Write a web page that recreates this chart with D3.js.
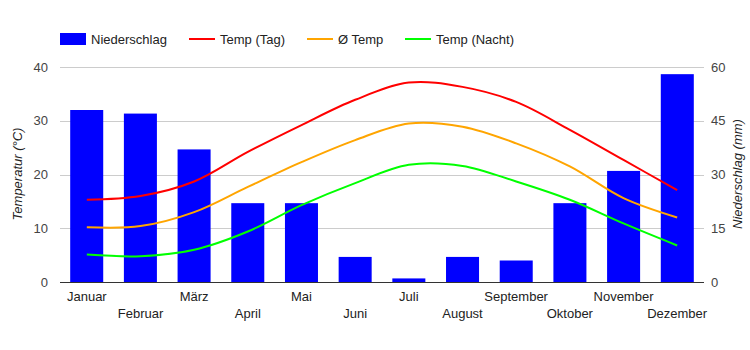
<!DOCTYPE html>
<html>
<head>
<meta charset="utf-8">
<script src="https://cdn.jsdelivr.net/npm/d3@7"></script>
<style>
	body { margin: 0; background: #fff; }
	text { font-family: Arial, "Liberation Sans", sans-serif; }
</style>
</head>
<body>
<div id="chart"></div>
<script>
var months = ['Januar', 'Februar', 'März', 'April', 'Mai', 'Juni', 'Juli', 'August', 'September', 'Oktober', 'November', 'Dezember'];
var niederschlag = [48, 47, 37, 22, 22, 7, 1, 7, 6, 22, 31, 58];
var tempTag = [15.3, 16.0, 18.7, 24.2, 29.2, 33.9, 37.1, 36.3, 33.5, 28.3, 22.7, 17.1];
var tempMittel = [10.2, 10.4, 13.0, 17.7, 22.3, 26.4, 29.5, 28.9, 25.8, 21.5, 15.6, 12.0];
var tempNacht = [5.1, 4.8, 6.0, 9.4, 14.3, 18.4, 21.8, 21.6, 18.7, 15.3, 10.9, 6.8];
var tempTicks = [0, 10, 20, 30, 40];
var rainTicks = [0, 15, 30, 45, 60];

var chart_width = 750;
var chart_height = 350;
var plot_left = 60, plot_right = 704, plot_top = 67, plot_bottom = 282;

function drawChart() {
	var svg = d3.select('#chart')
				.append('svg')
				.attr('width', chart_width)
				.attr('height', chart_height);

	var x_scale = d3.scaleBand()
					.domain(months)
					.range([plot_left, plot_right])
					.paddingInner(0.385)
					.paddingOuter(0.19);

	var x_center = d3.scalePoint()
					.domain(months)
					.range([plot_left, plot_right])
					.padding(0.5);

	var y_temp = d3.scaleLinear().domain([0, 40]).range([plot_bottom, plot_top]);
	var y_rain = d3.scaleLinear().domain([0, 60]).range([plot_bottom, plot_top]);

	//gridlines
	svg.append('g')
		.selectAll('line')
		.data(tempTicks.slice(1))
		.enter()
		.append('line')
		.attr('x1', plot_left)
		.attr('x2', plot_right)
		.attr('y1', function(d){ return Math.round(y_temp(d)) + 0.5; })
		.attr('y2', function(d){ return Math.round(y_temp(d)) + 0.5; })
		.attr('stroke', '#cccccc')
		.attr('stroke-width', 1);

	//bars
	svg.append('g')
		.selectAll('rect')
		.data(niederschlag)
		.enter()
		.append('rect')
		.attr('x', function(d, i){ return x_scale(months[i]); })
		.attr('width', x_scale.bandwidth())
		.attr('y', function(d){ return y_rain(d); })
		.attr('height', function(d){ return plot_bottom - y_rain(d); })
		.attr('fill', '#0000ff');

	//baseline
	svg.append('line')
		.attr('x1', plot_left).attr('x2', plot_right)
		.attr('y1', plot_bottom + 0.5).attr('y2', plot_bottom + 0.5)
		.attr('stroke', '#333333')
		.attr('stroke-width', 1);

	//lines
	var line = function(scale){
		return d3.line()
				.x(function(d, i){ return x_center(months[i]); })
				.y(function(d){ return scale(d); })
				.curve(d3.curveCatmullRom.alpha(0.5));
	};
	var series = [[tempTag, '#ff0000'], [tempMittel, '#ffa500'], [tempNacht, '#00ff00']];
	series.forEach(function(s){
		svg.append('path')
			.attr('d', line(y_temp)(s[0]))
			.attr('fill', 'none')
			.attr('stroke', s[1])
			.attr('stroke-width', 2);
	});

	//left axis
	var y_axis = d3.axisLeft(y_temp).tickValues(tempTicks).tickSize(0).tickPadding(12);
	var gl = svg.append('g')
		.attr('transform', 'translate(' + plot_left + ',0)')
		.call(y_axis);
	gl.select('.domain').remove();
	gl.selectAll('text').attr('font-size', 13).attr('fill', '#444444').attr('font-family', 'Arial, "Liberation Sans", sans-serif');

	//right axis
	var r_axis = d3.axisRight(y_rain).tickValues(rainTicks).tickSize(0).tickPadding(7);
	var gr = svg.append('g')
		.attr('transform', 'translate(' + plot_right + ',0)')
		.call(r_axis);
	gr.select('.domain').remove();
	gr.selectAll('text').attr('font-size', 13).attr('fill', '#444444').attr('font-family', 'Arial, "Liberation Sans", sans-serif');

	//x labels, alternating rows
	svg.append('g')
		.selectAll('text')
		.data(months)
		.enter()
		.append('text')
		.text(function(d){ return d; })
		.attr('x', function(d){ return x_center(d); })
		.attr('y', function(d, i){ return i % 2 == 0 ? 301 : 318; })
		.attr('text-anchor', 'middle')
		.attr('font-size', 13)
		.attr('fill', '#222222');

	//axis titles
	svg.append('text')
		.text('Temperatur (°C)')
		.attr('transform', 'translate(22,174) rotate(-90)')
		.attr('text-anchor', 'middle')
		.attr('font-size', 13)
		.attr('font-style', 'italic')
		.attr('fill', '#222222');

	svg.append('text')
		.text('Niederschlag (mm)')
		.attr('transform', 'translate(742,174) rotate(-90)')
		.attr('text-anchor', 'middle')
		.attr('font-size', 13)
		.attr('font-style', 'italic')
		.attr('fill', '#222222');

	//legend
	var legend = svg.append('g');
	legend.append('rect')
		.attr('x', 60).attr('y', 33)
		.attr('width', 26).attr('height', 12)
		.attr('fill', '#0000ff');
	legend.append('text').text('Niederschlag')
		.attr('x', 91).attr('y', 44).attr('font-size', 13).attr('fill', '#222222');

	var items = [['Temp (Tag)', '#ff0000', 189], ['Ø Temp', '#ffa500', 307], ['Temp (Nacht)', '#00ff00', 405]];
	items.forEach(function(it){
		legend.append('line')
			.attr('x1', it[2]).attr('x2', it[2] + 26)
			.attr('y1', 39).attr('y2', 39)
			.attr('stroke', it[1])
			.attr('stroke-width', 2);
		legend.append('text').text(it[0])
			.attr('x', it[2] + 31).attr('y', 44).attr('font-size', 13).attr('fill', '#222222');
	});
}

drawChart();
</script>
</body>
</html>
